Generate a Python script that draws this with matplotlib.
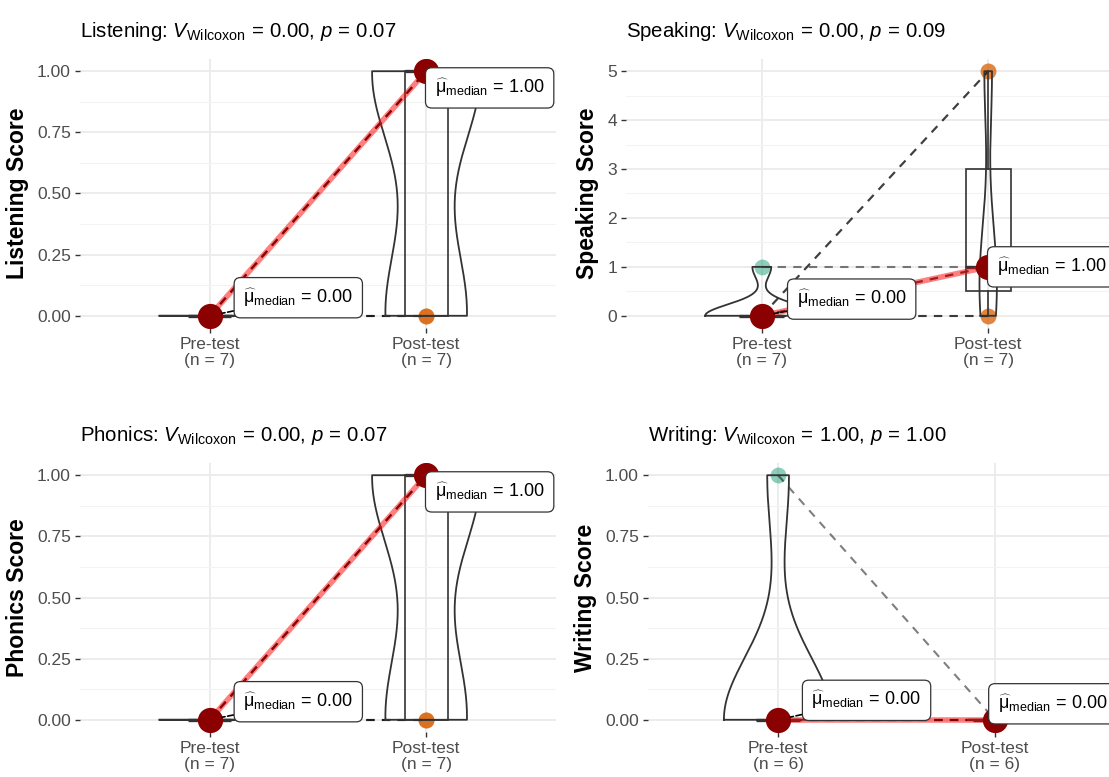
import numpy as np
import matplotlib
matplotlib.use("Agg")
import matplotlib.pyplot as plt
from matplotlib.ticker import FixedLocator

plt.rcParams['font.family'] = ['Liberation Sans', 'DejaVu Sans']
plt.rcParams['mathtext.fontset'] = 'custom'
plt.rcParams['mathtext.rm'] = 'Liberation Sans'
plt.rcParams['mathtext.it'] = 'Liberation Sans:italic'
plt.rcParams['mathtext.bf'] = 'Liberation Sans:bold'

# scores per subject, same subject order in pre and post
listening_pre = [0, 0, 0, 0, 0, 0, 0]
listening_post = [1, 1, 1, 1, 0, 0, 0]
speaking_pre = [0, 0, 0, 0, 0, 0, 1]
speaking_post = [0, 0, 1, 1, 5, 5, 1]
phonics_pre = [0, 0, 0, 0, 0, 0, 0]
phonics_post = [1, 1, 1, 1, 0, 0, 0]
writing_pre = [1, 0, 0, 0, 0, 0]
writing_post = [0, 0, 0, 0, 0, 0]

skills = ["Listening", "Speaking", "Phonics", "Writing"]
v_wilcoxon = [0.00, 0.00, 0.00, 1.00]
p_values = [0.07, 0.09, 0.07, 1.00]
groups = ["Pre-test", "Post-test"]

# panel boxes in pixels (left, top, right, bottom)
W, H = 1109, 777
panel_px = [(80, 59, 556, 328), (626, 59, 1124, 328),
            (80, 463, 556, 732), (648, 463, 1125, 732)]
# label offsets (points) for the pre and post median labels
label_off = [[(24, 13), (6, -12)], [(25, 12), (6, 0)],
             [(24, 13), (6, -12)], [(24, 14), (2, 11.5)]]

pt_cols = ["#1B9E77", "#D95F02"]


def bw_nrd0(x):
    x = np.asarray(x, float)
    hi = x.std(ddof=1)
    q75, q25 = np.percentile(x, [75, 25])
    lo = min(hi, (q75 - q25) / 1.34)
    if not lo:
        lo = hi or abs(x[0]) or 1.0
    return 0.9 * lo * len(x) ** -0.2


def density(x, grid):
    x = np.asarray(x, float)
    bw = bw_nrd0(x)
    z = (grid[:, None] - x[None, :]) / bw
    return np.exp(-0.5 * z ** 2).sum(1) / (len(x) * bw * np.sqrt(2 * np.pi))


fig = plt.figure(figsize=(W / 100, H / 100), dpi=100)

data = [(listening_pre, listening_post), (speaking_pre, speaking_post),
        (phonics_pre, phonics_post), (writing_pre, writing_post)]

for i, skill in enumerate(skills):
    x0, y0, x1, y1 = panel_px[i]
    ax = fig.add_axes([x0 / W, 1 - y1 / H, (x1 - x0) / W, (y1 - y0) / H])
    pre, post = data[i]
    pre = np.array(pre, float)
    post = np.array(post, float)
    ymax = max(pre.max(), post.max())
    pad = 0.05 * ymax
    ax.set_xlim(0.4, 2.6)
    ax.set_ylim(-pad, ymax + pad)

    if ymax > 1:
        ticks = np.arange(0, ymax + 1)
        ax.set_yticks(ticks)
        ax.set_yticklabels([f"{t:.0f}" for t in ticks])
        ax.yaxis.set_minor_locator(FixedLocator(ticks[:-1] + 0.5))
    else:
        ticks = np.arange(0, 1.01, 0.25)
        ax.set_yticks(ticks)
        ax.set_yticklabels([f"{t:.2f}" for t in ticks])
        ax.yaxis.set_minor_locator(FixedLocator(ticks[:-1] + 0.125))

    ax.set_xticks([1, 2])
    ax.set_xticklabels([f"{g}\n(n = {len(pre)})" for g in groups], linespacing=1.05)

    for s in ax.spines.values():
        s.set_visible(False)
    ax.grid(True, which='major', color='#EBEBEB', lw=1.3, zorder=0)
    ax.grid(True, which='minor', axis='y', color='#F3F3F3', lw=0.8, zorder=0)
    ax.set_axisbelow(True)
    ax.tick_params(axis='both', which='major', length=3.5, width=1.0, color='#333333',
                   labelsize=12.5, labelcolor='#4D4D4D', pad=3)
    ax.tick_params(axis='y', which='minor', length=0)

    # raw points
    for k, vals in enumerate((pre, post)):
        ax.scatter(np.full(len(vals), k + 1), vals, s=130, color=pt_cols[k],
                   alpha=0.5, lw=0, zorder=2)

    # paired lines per subject
    for a, b in zip(pre, post):
        ax.plot([1, 2], [a, b], ls=(0, (4, 3.5)), color='black', alpha=0.5,
                lw=1.5, zorder=3)

    # boxplots
    ax.boxplot([pre, post], positions=[1, 2], widths=0.2, showfliers=False,
               showcaps=False, patch_artist=True, manage_ticks=False,
               boxprops=dict(facecolor='none', edgecolor='#333333', lw=1.2),
               whiskerprops=dict(color='#333333', lw=1.2),
               medianprops=dict(color='#333333', lw=2.4), zorder=4)

    # violins, area scaled within the panel
    grids = [np.linspace(v.min(), v.max(), 512) for v in (pre, post)]
    dens = [density(v, g) for v, g in zip((pre, post), grids)]
    dmax = max(d.max() for d in dens)
    for k in range(2):
        hw = 0.25 * dens[k] / dmax
        xs = np.concatenate([k + 1 - hw, (k + 1 + hw)[::-1], [k + 1 - hw[0]]])
        ys = np.concatenate([grids[k], grids[k][::-1], [grids[k][0]]])
        ax.plot(xs, ys, color='#333333', lw=1.3, zorder=5)

    # medians
    meds = [np.median(pre), np.median(post)]
    ax.plot([1, 2], meds, color='red', alpha=0.5, lw=4, zorder=6,
            solid_capstyle='butt')
    ax.scatter([1, 2], meds, s=330, color='darkred', lw=0, zorder=7)
    for k in range(2):
        ax.annotate(r"$\widehat{\mathrm{\mu}}_{\mathrm{median}}\,=\,%.2f$" % meds[k],
                    xy=(k + 1, meds[k]), xytext=label_off[i][k],
                    textcoords='offset points', ha='left', va='center',
                    fontsize=13, zorder=8,
                    bbox=dict(boxstyle='round,pad=0.5,rounding_size=0.35',
                              fc='white', ec='#333333', lw=0.9),
                    arrowprops=dict(arrowstyle='-', ls='--', color='black',
                                    lw=1.2, shrinkA=0, shrinkB=9))

    ax.set_ylabel(f"{skill} Score", fontsize=16.5, fontweight='bold', labelpad=6)
    ax.set_title(f"{skill}: " + r"$V_{\mathrm{Wilcoxon}}\,=\,%.2f$, $p\,=\,%.2f$"
                 % (v_wilcoxon[i], p_values[i]),
                 loc='left', fontsize=14.7, pad=16)

fig.savefig("out.png", dpi=100)
